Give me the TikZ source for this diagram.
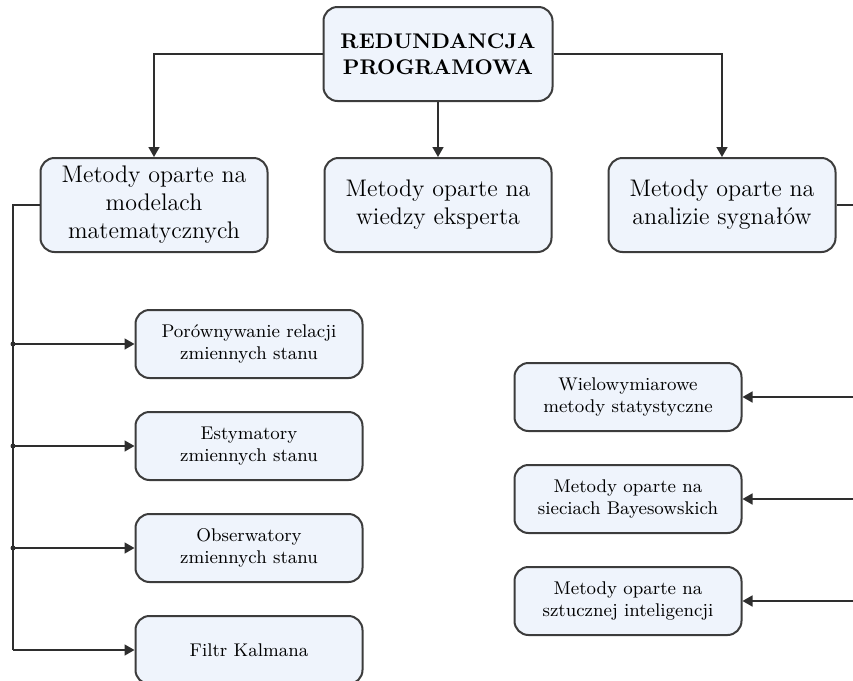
\documentclass[tikz,border=0pt]{standalone}
\usepackage{tikz}
\usetikzlibrary{arrows.meta,calc}

\definecolor{boxfill}{HTML}{EFF4FC}
\definecolor{boxline}{HTML}{3C3C3C}
\definecolor{wire}{HTML}{2E2E2E}

\tikzset{
  bigbox/.style={draw=boxline,fill=boxfill,line width=1pt,rounded corners=7pt,
    minimum width=113.5pt,minimum height=47pt,align=center,inner sep=2pt,
    font=\fontsize{12}{14}\selectfont},
  topbox/.style={bigbox,minimum width=114.5pt,font=\fontsize{10.6}{13}\selectfont\bfseries},
  smallbox/.style={draw=boxline,fill=boxfill,line width=1pt,rounded corners=7pt,
    minimum width=113.5pt,minimum height=34pt,align=center,inner sep=2pt,
    font=\fontsize{9.2}{11}\selectfont},
  wire/.style={draw=wire,line width=0.8pt},
  arr/.style={wire,-{Triangle[length=5pt,width=5.5pt]}},
  junction/.style={circle,fill=wire,inner sep=0pt,minimum size=2.5pt}
}

\begin{document}
\begin{tikzpicture}[x=0.5pt,y=-0.5pt]
% the visible part of the page
\clip (0,0) rectangle (853,681);
% the root and the three groups
\node[topbox] (root) at (438,54) {REDUNDANCJA\\PROGRAMOWA};
\node[bigbox] (model) at (154,205) {Metody oparte na\\modelach\\matematycznych};
\node[bigbox] (expert) at (438,205) {Metody oparte na\\wiedzy eksperta};
\node[bigbox] (signal) at (722,205) {Metody oparte na\\analizie sygna\l{}\'ow};
% the methods on mathematical models
\node[smallbox] (rel) at (249,344) {Por\'ownywanie relacji\\zmiennych stanu};
\node[smallbox] (est) at (249,446) {Estymatory\\zmiennych stanu};
\node[smallbox] (obs) at (249,548) {Obserwatory\\zmiennych stanu};
\node[smallbox] (kal) at (249,650) {Filtr Kalmana};
% the methods on signal analysis
\node[smallbox] (stat) at (628,397) {Wielowymiarowe\\metody statystyczne};
\node[smallbox] (bay) at (628,499) {Metody oparte na\\sieciach Bayesowskich};
\node[smallbox] (ai) at (628,601) {Metody oparte na\\sztucznej inteligencji};
% the two buses
\coordinate (lbus) at (13,0);
\coordinate (rbus) at (870,0);
% root to the groups
\draw[arr] (root.west) -| (model.north);
\draw[arr] (root.south) -- (expert.north);
\draw[arr] (root.east) -| (signal.north);
% left bus
\draw[wire] (model.west) -- (lbus |- model.west) -- (lbus |- kal);
\foreach \n in {rel,est,obs,kal}
  \draw[arr] (lbus |- \n) -- (\n.west);
\foreach \n in {rel,est,obs}
  \node[junction] at (lbus |- \n) {};
% right bus
\draw[wire] (signal.east) -- (rbus |- signal.east);
\foreach \n in {stat,bay,ai}
  \draw[arr] (rbus |- \n) -- (\n.east);
\end{tikzpicture}
\end{document}
